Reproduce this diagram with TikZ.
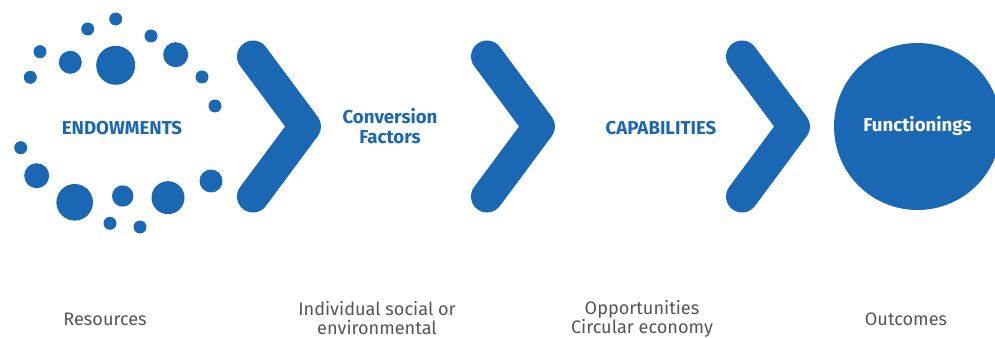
\documentclass[tikz,border=0pt]{standalone}
\usepackage{fontspec}
\setmainfont{Fira Sans}
\definecolor{capblue}{HTML}{1A68B3}
\definecolor{labelgray}{HTML}{555555}
\tikzset{
    chevron/.style={line width=24pt,draw=capblue,line cap=round,line join=round},
    headlabel/.style={text=capblue,font=\fontsize{14}{15}\selectfont\bfseries,align=center},
    footlabel/.style={text=labelgray,font=\fontsize{13.6}{14.25}\selectfont,align=center},
}

\begin{document}
\begin{tikzpicture}[x=0.75pt,y=-0.75pt]
    \useasboundingbox (0,0) rectangle (995,338);
    \def\apexy{126.5} % height of the chevron tips

    %======================================================
    % endowments: ring of dots
    %======================================================
    \foreach \x/\y/\r in {115.7/19/6.5, 87.7/29/6.5, 151/36/6.5,
        40/51.7/6.5, 70.3/62.3/11.5, 115.7/65.3/19.5, 175.7/54.7/12.5,
        30.3/77.3/6.5, 202/77/6.5, 215/106/6.5, 20.7/147.7/6.5,
        36.7/175.7/12.5, 74.7/202.3/18.3, 122.7/196/10.7,
        168/197.7/16.5, 211/181/11.5, 110/223.3/6.5, 140/227/6.5}{
        \fill[capblue] (\x,\y) circle (\r);
    }
    \node[headlabel] (endow) at (122,128) {ENDOWMENTS};

    %======================================================
    % chevrons
    %======================================================
    \foreach \cx in {253,487,742}{
        \draw[chevron] (\cx,56.5) -- (\cx+52,\apexy) -- (\cx,196.5);
    }

    \node[headlabel] (conv) at (390,126.5) {Conversion\\Factors};
    \node[headlabel] (capab) at (661,128) {CAPABILITIES};

    %======================================================
    % functionings
    %======================================================
    \node[circle,fill=capblue,minimum size=125.25pt,inner sep=0pt,
        text=white,font=\fontsize{14}{15}\selectfont\bfseries]
        (func) at (917.5,\apexy) {Functionings};

    % labels below
    \node[footlabel] (res) at (105,319) {Resources};
    \node[footlabel] (indiv) at (377,318.5) {Individual social or\\environmental};
    \node[footlabel] (opp) at (642,318.5) {Opportunities\\Circular economy};
    \node[footlabel] (out) at (906,319) {Outcomes};
\end{tikzpicture}
\end{document}
